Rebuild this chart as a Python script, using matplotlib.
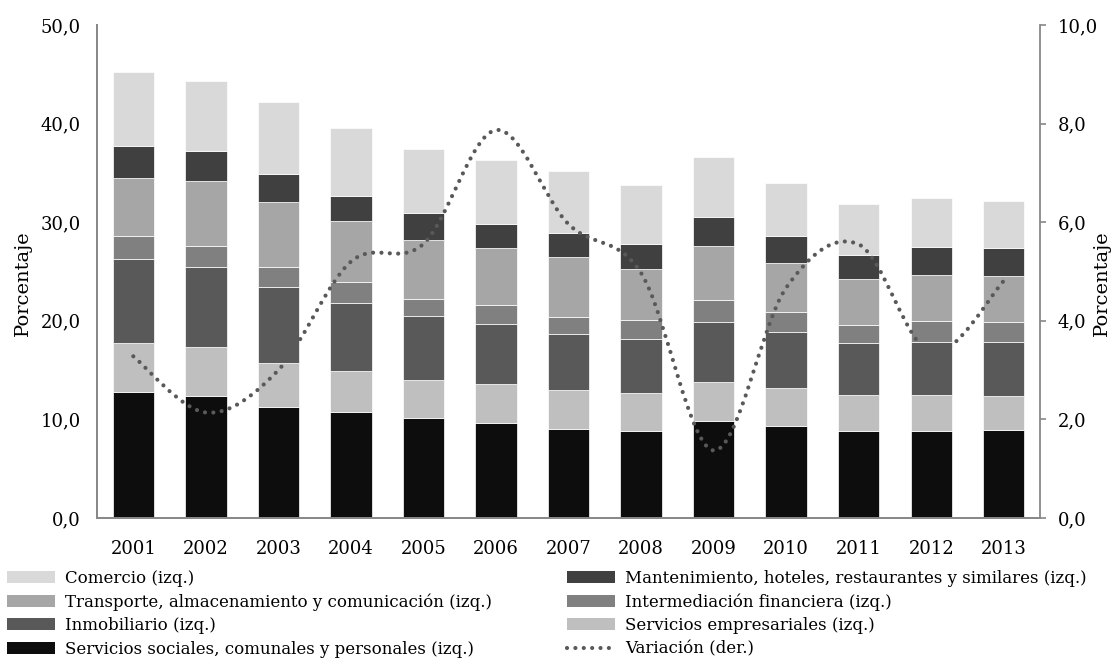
import matplotlib
matplotlib.use("Agg")
import matplotlib.pyplot as plt
from matplotlib.path import Path
from matplotlib.patches import PathPatch, Patch
from matplotlib.lines import Line2D
import numpy as np

plt.rcParams['font.family'] = ['DejaVu Serif']

years = ['2001', '2002', '2003', '2004', '2005', '2006', '2007',
         '2008', '2009', '2010', '2011', '2012', '2013']

# Segment values (left axis, %), stacked bottom to top
sociales = [12.8, 12.4, 11.3, 10.7, 10.1, 9.6, 9.0, 8.8, 9.8, 9.3, 8.8, 8.8, 8.9]
empresariales = [4.9, 4.9, 4.4, 4.2, 3.9, 4.0, 4.0, 3.9, 4.0, 3.9, 3.7, 3.7, 3.5]
inmobiliario = [8.6, 8.2, 7.7, 6.9, 6.5, 6.1, 5.7, 5.5, 6.1, 5.7, 5.2, 5.4, 5.4]
intermediacion = [2.3, 2.1, 2.1, 2.1, 1.7, 1.9, 1.7, 1.9, 2.2, 2.0, 1.9, 2.1, 2.1]
transporte = [5.9, 6.6, 6.5, 6.2, 6.0, 5.8, 6.1, 5.2, 5.5, 5.0, 4.6, 4.6, 4.6]
mantenimiento = [3.2, 3.0, 2.9, 2.6, 2.7, 2.4, 2.4, 2.5, 2.9, 2.7, 2.5, 2.9, 2.9]
comercio = [7.5, 7.1, 7.3, 6.9, 6.5, 6.5, 6.3, 6.0, 6.1, 5.4, 5.1, 5.0, 4.8]

# Line values (right axis, %)
variacion = [3.28, 2.14, 3.0, 5.2, 5.56, 7.87, 5.96, 4.97, 1.37, 4.67, 5.55, 3.35, 4.81]

series = [
    (sociales, 'Servicios sociales, comunales y personales (izq.)', '#0d0d0d'),
    (empresariales, 'Servicios empresariales (izq.)', '#bfbfbf'),
    (inmobiliario, 'Inmobiliario (izq.)', '#595959'),
    (intermediacion, 'Intermediación financiera (izq.)', '#808080'),
    (transporte, 'Transporte, almacenamiento y comunicación (izq.)', '#a6a6a6'),
    (mantenimiento, 'Mantenimiento, hoteles, restaurantes y similares (izq.)', '#404040'),
    (comercio, 'Comercio (izq.)', '#d9d9d9'),
]

fig = plt.figure(figsize=(11.14, 6.67), dpi=100)
ax = fig.add_axes([0.0871, 0.2234, 0.9336 - 0.0871, 0.9625 - 0.2234])
ax2 = ax.twinx()

x = np.arange(len(years))
bottom = np.zeros(len(years))
handles = {}
for vals, label, color in series:
    v = np.array(vals)
    ax.bar(x, v, bottom=bottom, width=0.57, color=color, edgecolor='white',
           linewidth=0.5, label=label, zorder=2)
    handles[label] = Patch(facecolor=color, edgecolor='none')
    bottom += v

# Smoothed line (Excel-style Bezier)
P = np.column_stack([x, variacion]).astype(float)
n = len(P)
verts = [tuple(P[0])]
codes = [Path.MOVETO]
for i in range(n - 1):
    p0 = P[i - 1] if i > 0 else P[i]
    p1 = P[i]
    p2 = P[i + 1]
    p3 = P[i + 2] if i + 2 < n else P[i + 1]
    c1 = p1 + (p2 - p0) / 6.0
    c2 = p2 - (p3 - p1) / 6.0
    verts += [tuple(c1), tuple(c2), tuple(p2)]
    codes += [Path.CURVE4] * 3
patch = PathPatch(Path(verts, codes), fill=False, capstyle='round', zorder=3,
                  edgecolor='#595959', linewidth=3.0, linestyle=(0, (0.01, 2.0)))
ax2.add_patch(patch)

ax.set_xlim(-0.5, len(years) - 0.5)
ax.set_ylim(0, 50)
ax2.set_ylim(0, 10)

fs = 13
lfs = 12
ax.set_xticks(x)
ax.set_xticklabels(years, fontsize=fs)
ax.set_yticks(np.arange(0, 51, 10))
ax.set_yticklabels([f'{v:.1f}'.replace('.', ',') for v in np.arange(0, 51, 10)], fontsize=fs)
ax2.set_yticks(np.arange(0, 11, 2))
ax2.set_yticklabels([f'{v:.1f}'.replace('.', ',') for v in np.arange(0, 11, 2)], fontsize=fs)

ax.tick_params(axis='x', length=0, pad=16)
ax.tick_params(axis='y', length=0, pad=11.5)
ax2.tick_params(axis='y', length=4.5, width=1.2, color='#888888', pad=8)

for a in (ax, ax2):
    a.spines['top'].set_visible(False)
for s in ('left', 'bottom', 'right'):
    ax2.spines[s].set_color('#888888')
    ax2.spines[s].set_linewidth(1.3)
ax.spines['right'].set_visible(False)
ax.spines['left'].set_color('#888888')
ax.spines['left'].set_linewidth(1.3)
ax.spines['bottom'].set_color('#888888')
ax.spines['bottom'].set_linewidth(1.3)

ax.set_ylabel('Porcentaje', fontsize=14)
ax2.set_ylabel('Porcentaje', fontsize=14)
ax.yaxis.set_label_coords(-0.0689, 0.477)
ax2.yaxis.set_label_coords(1.0562, 0.477)

# Legend: two columns
left_labels = ['Comercio (izq.)', 'Transporte, almacenamiento y comunicación (izq.)',
               'Inmobiliario (izq.)', 'Servicios sociales, comunales y personales (izq.)']
right_labels = ['Mantenimiento, hoteles, restaurantes y similares (izq.)',
                'Intermediación financiera (izq.)', 'Servicios empresariales (izq.)']
line_handle = Line2D([0], [0], color='#595959', linewidth=3.0,
                     linestyle=(0, (0.01, 2.0)), dash_capstyle='round')

leg_kw = dict(frameon=False, fontsize=lfs, handlelength=2.9, handleheight=0.75,
              handletextpad=0.6, labelspacing=0.38, borderpad=0, borderaxespad=0,
              loc='upper left')
leg1 = fig.legend([handles[l] for l in left_labels], left_labels,
                  bbox_to_anchor=(7 / 1114, 1 - 570 / 667), **leg_kw)
leg2 = fig.legend([handles[l] for l in right_labels] + [line_handle],
                  right_labels + ['Variación (der.)'],
                  bbox_to_anchor=(567 / 1114, 1 - 570 / 667), **leg_kw)

fig.savefig('out.png', dpi=100)
